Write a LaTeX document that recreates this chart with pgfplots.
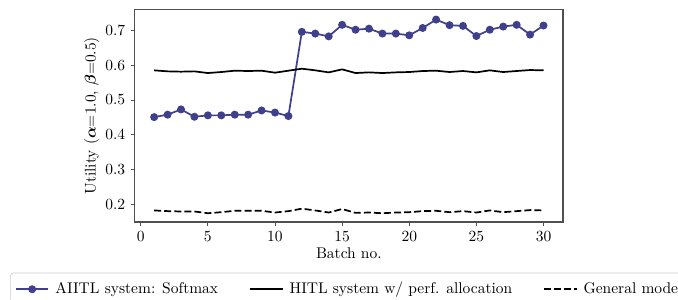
\documentclass[border=0pt]{standalone}
\usepackage{pgfplots}
\pgfplotsset{compat=1.18}
\usepackage{bm}
\definecolor{softblue}{RGB}{63,63,140}
\definecolor{framegray}{RGB}{80,80,80}
\begin{document}
\begin{tikzpicture}
\useasboundingbox (-86.9pt,-49.7pt) rectangle ++(437.4pt,192.9pt);
\clip (-86.9pt,-49.7pt) rectangle ++(437.4pt,192.9pt);
\begin{axis}[
  scale only axis,
  width=276.3pt, height=137.1pt,
  xmin=-0.45, xmax=31.45,
  ymin=0.151, ymax=0.759,
  xtick={0,5,10,15,20,25,30},
  ytick={0.2,0.3,0.4,0.5,0.6,0.7},
  yticklabel style={/pgf/number format/fixed,/pgf/number format/precision=1,/pgf/number format/fixed zerofill},
  tick align=outside,
  xtick pos=left, ytick pos=left,
  major tick length=2.6pt,
  axis line style={framegray, line width=0.7pt},
  tick style={framegray, line width=0.6pt},
  xlabel={Batch no.},
  ylabel={Utility ($\bm{\alpha}$=1.0, $\bm{\beta}$=0.5)},
  xlabel style={yshift=3pt},
  ylabel style={yshift=-3pt},
  legend columns=3,
  legend cell align=left,
  legend style={at={(0,0)}, anchor=north west, xshift=-80.4pt, yshift=-32.7pt,
    draw={rgb,1:red,0.8;green,0.8;blue,0.8}, rounded corners=2pt,
    inner xsep=3pt, inner ysep=4pt,
    /tikz/every even column/.append style={column sep=16pt},
    nodes={inner xsep=4pt}},
  legend image code/.code={\draw[mark repeat=2,mark phase=2,#1] plot coordinates {(0pt,0pt) (10.5pt,0pt) (21pt,0pt)};},
]
\addplot[softblue, line width=1.1pt, mark=*, mark size=2pt, mark options={solid}] coordinates {
(1,0.451)(2,0.458)(3,0.473)(4,0.452)(5,0.456)(6,0.456)(7,0.458)(8,0.458)(9,0.470)(10,0.464)
(11,0.454)(12,0.695)(13,0.690)(14,0.682)(15,0.715)(16,0.701)(17,0.704)(18,0.690)(19,0.690)(20,0.685)
(21,0.706)(22,0.730)(23,0.714)(24,0.712)(25,0.683)(26,0.701)(27,0.710)(28,0.715)(29,0.687)(30,0.713)};
\addlegendentry{AIITL system: Softmax}
\addplot[black, line width=1.1pt] coordinates {
(1,0.5848)(2,0.5819)(3,0.5810)(4,0.5819)(5,0.5771)(6,0.5800)(7,0.5838)(8,0.5829)(9,0.5838)(10,0.5781)
(11,0.5838)(12,0.5895)(13,0.5848)(14,0.5790)(15,0.5876)(16,0.5771)(17,0.5790)(18,0.5771)(19,0.5790)(20,0.5800)
(21,0.5829)(22,0.5838)(23,0.5800)(24,0.5829)(25,0.5790)(26,0.5848)(27,0.5800)(28,0.5829)(29,0.5857)(30,0.5848)};
\addlegendentry{HITL system w/ perf. allocation}
\addplot[black, line width=1.1pt, dash pattern=on 4.5pt off 2pt] coordinates {
(1,0.184)(2,0.182)(3,0.181)(4,0.181)(5,0.176)(6,0.179)(7,0.183)(8,0.183)(9,0.183)(10,0.178)
(11,0.182)(12,0.189)(13,0.184)(14,0.178)(15,0.188)(16,0.177)(17,0.178)(18,0.176)(19,0.178)(20,0.179)
(21,0.182)(22,0.183)(23,0.179)(24,0.182)(25,0.178)(26,0.184)(27,0.179)(28,0.182)(29,0.185)(30,0.184)};
\addlegendentry{General model}
\end{axis}
\end{tikzpicture}
\end{document}
